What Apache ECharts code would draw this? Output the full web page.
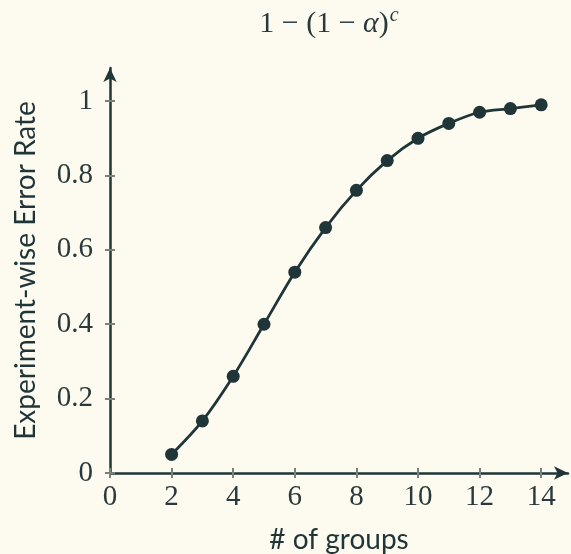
<!DOCTYPE html>
<html>
<head>
<meta charset="utf-8">
<script src="https://cdn.jsdelivr.net/npm/echarts@6/dist/echarts.min.js"></script>
<style>
  html, body { margin: 0; padding: 0; background: #fdfbf0; }
  #main { width: 571px; height: 554px; }
</style>
</head>
<body>
<div id="main"></div>
<script>
// data
var groups = [2, 3, 4, 5, 6, 7, 8, 9, 10, 11, 12, 13, 14];
var errRate = [0.05, 0.14, 0.26, 0.40, 0.54, 0.66, 0.76, 0.84, 0.90, 0.94, 0.97, 0.98, 0.99];
var xTicks = [0, 2, 4, 6, 8, 10, 12, 14];
var yTicks = [0, 0.2, 0.4, 0.6, 0.8, 1];

var ink = '#1f3538';
var textInk = '#2a3a3c';
var tickGray = '#7a7f7f';
var serif = '"Liberation Serif", "DejaVu Serif", serif';
var sans = 'Lato, "Open Sans", "DejaVu Sans", sans-serif';

var gridBox = { left: 110, right: 3, top: 68, bottom: 81, outerBoundsMode: 'none' };
var xMax = 14.87, yMax = 1.089;

var points = [];
for (var i = 0; i < groups.length; i++) {
    points.push([groups[i], errRate[i]]);
}

var chart = echarts.init(document.getElementById('main'));

var option = {
    backgroundColor: '#fdfbf0',
    animation: false,
    title: {
        text: '{n|1 − (1 − }{a|α}{n|)}{s|c}',
        left: 324,
        top: 1,
        textAlign: 'center',
        textStyle: {
            fontWeight: 'normal',
            rich: {
                n: { fontFamily: serif, fontSize: 30, fontWeight: 'normal', color: textInk },
                a: { fontFamily: serif, fontSize: 30, fontWeight: 'normal', fontStyle: 'italic', color: textInk },
                s: { fontFamily: serif, fontSize: 20, fontWeight: 'normal', fontStyle: 'italic', color: textInk, verticalAlign: 'top', padding: [0, 0, 16, 1] }
            }
        }
    },
    grid: [
        gridBox,
        gridBox
    ],
    xAxis: [
        {
            type: 'value', gridIndex: 0, min: 0, max: xMax,
            name: '# of groups',
            nameLocation: 'middle',
            nameGap: 53,
            nameTextStyle: { fontFamily: sans, fontSize: 28, color: ink },
            axisLine: { show: true, symbol: ['none', 'arrow'], symbolSize: [10, 14], lineStyle: { color: ink, width: 2.5 } },
            axisTick: { show: true, inside: false, length: 5, customValues: xTicks, lineStyle: { color: tickGray, width: 2 } },
            axisLabel: { customValues: xTicks, margin: 10, fontFamily: serif, fontSize: 29, color: textInk },
            splitLine: { show: false }
        },
        {
            type: 'value', gridIndex: 1, min: 0, max: xMax,
            axisLine: { show: false },
            axisTick: { show: true, inside: true, length: 5, customValues: xTicks, lineStyle: { color: tickGray, width: 2 } },
            axisLabel: { show: false },
            splitLine: { show: false }
        }
    ],
    yAxis: [
        {
            type: 'value', gridIndex: 0, min: 0, max: yMax,
            name: 'Experiment-wise Error Rate',
            nameLocation: 'middle',
            nameGap: 70,
            nameTextStyle: { fontFamily: sans, fontSize: 28, color: ink },
            axisLine: { show: true, symbol: ['none', 'arrow'], symbolSize: [10, 14], lineStyle: { color: ink, width: 2.5 } },
            axisTick: { show: true, inside: false, length: 5, customValues: yTicks, lineStyle: { color: tickGray, width: 2 } },
            axisLabel: { customValues: yTicks, margin: 17, fontFamily: serif, fontSize: 29, color: textInk },
            splitLine: { show: false }
        },
        {
            type: 'value', gridIndex: 1, min: 0, max: yMax,
            axisLine: { show: false },
            axisTick: { show: true, inside: true, length: 5, customValues: yTicks, lineStyle: { color: tickGray, width: 2 } },
            axisLabel: { show: false },
            splitLine: { show: false }
        }
    ],
    series: [
        {
            type: 'line',
            xAxisIndex: 0,
            yAxisIndex: 0,
            data: points,
            smooth: 0.35,
            symbol: 'circle',
            symbolSize: 13,
            lineStyle: { color: ink, width: 2.8 },
            itemStyle: { color: ink },
            z: 5
        }
    ]
};

chart.setOption(option);
</script>
</body>
</html>
